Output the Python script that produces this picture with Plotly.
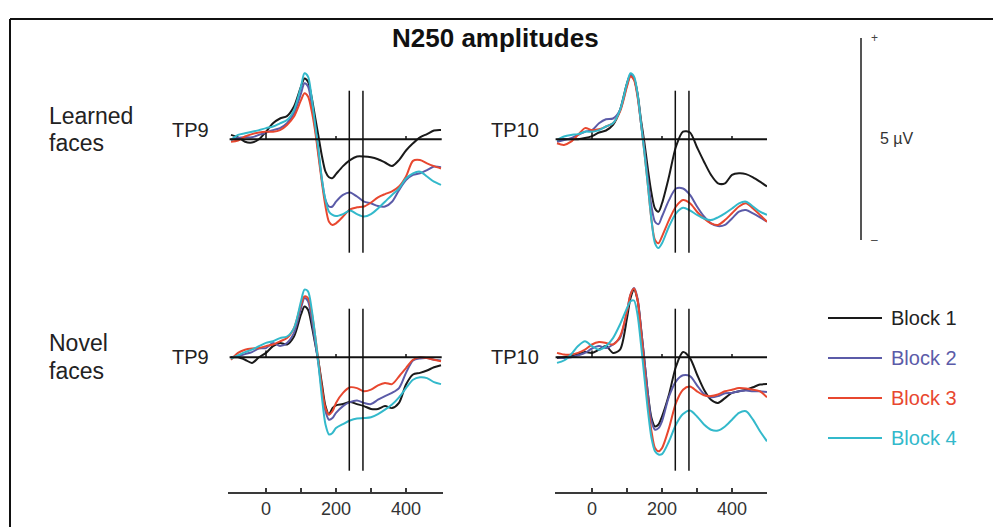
import plotly.graph_objects as go

# ---------------- data (µV) ----------------
t_ms = [-100, -80, -60, -40, -20, 0, 20, 40, 60, 80,
        100, 110, 120, 130, 140, 150, 160, 170, 180, 190, 200,
        220, 240, 260, 280, 300, 320, 340, 360, 380, 400, 420, 440, 460, 480, 500]

blocks = ["Block 1", "Block 2", "Block 3", "Block 4"]
colors = ["#1a1a1a", "#5b5ba8", "#e8472f", "#33b9cb"]

# Learned faces, TP9
learned_tp9 = [
    [0.11, 0.05, -0.06, -0.08, 0, 0.19, 0.4, 0.52, 0.58, 0.82,
     1.32, 1.52, 1.44, 1.07, 0.57, 0.07, -0.43, -0.81, -0.95, -0.97, -0.87,
     -0.67, -0.52, -0.43, -0.43, -0.45, -0.5, -0.58, -0.67, -0.52, -0.28, -0.1, 0.05, 0.13, 0.22, 0.23],
    [-0.02, 0.03, 0.05, 0.05, 0.11, 0.17, 0.23, 0.28, 0.4, 0.65,
     1.15, 1.4, 1.32, 0.9, 0.32, -0.35, -1.02, -1.52, -1.68, -1.68, -1.56,
     -1.39, -1.33, -1.43, -1.56, -1.6, -1.67, -1.68, -1.56, -1.27, -1.02, -0.89, -0.85, -0.77, -0.68, -0.7],
    [-0.06, -0.03, 0.07, 0.13, 0.17, 0.19, 0.19, 0.23, 0.36, 0.57,
     0.98, 1.15, 1.07, 0.73, 0.23, -0.43, -1.1, -1.68, -2.06, -2.14, -2.1,
     -1.93, -1.75, -1.7, -1.68, -1.58, -1.45, -1.37, -1.3, -1.18, -0.93, -0.54, -0.52, -0.6, -0.67, -0.73],
    [-0.02, 0.11, 0.15, 0.19, 0.23, 0.28, 0.32, 0.4, 0.48, 0.73,
     1.32, 1.65, 1.57, 1.07, 0.4, -0.27, -1.02, -1.52, -1.81, -1.89, -1.92,
     -1.87, -1.78, -1.87, -1.93, -1.87, -1.73, -1.56, -1.39, -1.23, -0.98, -0.85, -0.81, -0.93, -1.06, -1.14],
]

# Learned faces, TP10
learned_tp10 = [
    [-0.02, 0, 0, 0, 0.03, 0.08, 0.17, 0.22, 0.36, 0.73,
     1.4, 1.61, 1.52, 1.15, 0.48, -0.1, -0.77, -1.35, -1.73, -1.81, -1.6,
     -0.93, -0.18, 0.19, 0.17, -0.2, -0.56, -0.89, -1.1, -1.1, -0.89, -0.85, -0.87, -0.95, -1.06, -1.18],
    [-0.06, -0.02, 0.03, 0.11, 0.19, 0.23, 0.4, 0.5, 0.52, 0.73,
     1.36, 1.61, 1.52, 1.11, 0.4, -0.27, -1.02, -1.68, -2.06, -2.12, -1.93,
     -1.52, -1.23, -1.23, -1.39, -1.68, -1.93, -2.1, -2.17, -2.14, -1.98, -1.81, -1.77, -1.85, -1.95, -2.06],
    [-0.1, -0.14, -0.06, 0.11, 0.28, 0.23, 0.25, 0.32, 0.4, 0.69,
     1.32, 1.57, 1.48, 1.07, 0.4, -0.35, -1.18, -2.02, -2.52, -2.6, -2.43,
     -2.02, -1.68, -1.52, -1.6, -1.81, -1.98, -2.1, -2.14, -2.02, -1.85, -1.68, -1.6, -1.73, -1.89, -2.06],
    [-0.02, 0.07, 0.11, 0.13, 0.19, 0.19, 0.23, 0.32, 0.4, 0.73,
     1.4, 1.65, 1.57, 1.15, 0.4, -0.35, -1.18, -2.02, -2.6, -2.72, -2.6,
     -2.18, -1.85, -1.71, -1.78, -1.89, -1.98, -2.02, -1.95, -1.85, -1.73, -1.6, -1.56, -1.68, -1.81, -1.89],
]

# Novel faces, TP9
novel_tp9 = [
    [0, 0, -0.06, -0.14, 0, 0.11, 0.28, 0.36, 0.32, 0.52,
     1.07, 1.27, 1.19, 0.82, 0.36, -0.1, -0.68, -1.22, -1.43, -1.27, -1.2,
     -1.17, -1.12, -1.17, -1.22, -1.29, -1.29, -1.22, -1.27, -1.14, -0.68, -0.43, -0.39, -0.33, -0.25, -0.2],
    [0, 0.03, 0.08, 0.13, 0.22, 0.23, 0.36, 0.28, 0.36, 0.61,
     1.23, 1.48, 1.4, 0.98, 0.4, -0.18, -0.85, -1.35, -1.56, -1.52, -1.39,
     -1.22, -1.12, -1.08, -1.14, -1.17, -1.06, -0.97, -0.89, -0.77, -0.39, -0.08, -0.03, -0.02, -0.06, -0.08],
    [-0.06, 0.11, 0.19, 0.22, 0.23, 0.28, 0.32, 0.4, 0.48, 0.73,
     1.32, 1.52, 1.48, 1.15, 0.57, -0.1, -0.77, -1.27, -1.43, -1.35, -1.14,
     -0.89, -0.75, -0.77, -0.85, -0.81, -0.7, -0.64, -0.67, -0.48, -0.27, -0.06, 0, -0.02, -0.06, -0.1],
    [-0.03, 0.05, 0.13, 0.19, 0.28, 0.36, 0.4, 0.48, 0.52, 0.73,
     1.4, 1.69, 1.65, 1.23, 0.57, -0.18, -1.02, -1.68, -1.93, -1.89, -1.77,
     -1.67, -1.58, -1.53, -1.52, -1.5, -1.42, -1.31, -1.18, -1.0, -0.77, -0.56, -0.5, -0.52, -0.62, -0.67],
]

# Novel faces, TP10
novel_tp10 = [
    [-0.02, 0, 0.03, 0.07, 0.13, 0.11, 0.19, 0.28, 0.11, 0.19,
     0.98, 1.48, 1.69, 1.44, 0.73, -0.1, -0.93, -1.52, -1.73, -1.68, -1.48,
     -0.93, -0.23, 0.13, -0.02, -0.43, -0.81, -1.06, -1.14, -1.02, -0.89, -0.85, -0.81, -0.75, -0.68, -0.67],
    [0, -0.02, 0, 0.05, 0.11, 0.22, 0.28, 0.23, 0.32, 0.48,
     1.15, 1.57, 1.73, 1.48, 0.73, -0.1, -0.93, -1.6, -1.81, -1.77, -1.6,
     -0.98, -0.6, -0.45, -0.47, -0.7, -0.92, -1.0, -0.97, -0.9, -0.89, -0.85, -0.83, -0.85, -0.85, -0.87],
    [0.11, 0.07, 0.07, 0.11, 0.19, 0.32, 0.38, 0.36, 0.32, 0.52,
     1.15, 1.57, 1.72, 1.44, 0.65, -0.27, -1.18, -1.85, -2.27, -2.35, -2.27,
     -1.77, -1.14, -0.81, -0.73, -0.85, -0.95, -0.97, -0.93, -0.85, -0.81, -0.77, -0.78, -0.81, -0.85, -1.0],
    [-0.14, -0.08, 0.07, 0.28, 0.4, 0.28, 0.19, 0.28, 0.48, 0.82,
     1.23, 1.4, 1.42, 1.07, 0.32, -0.52, -1.35, -2.02, -2.35, -2.43, -2.42,
     -2.1, -1.68, -1.42, -1.33, -1.48, -1.68, -1.81, -1.83, -1.73, -1.56, -1.39, -1.35, -1.56, -1.85, -2.1],
]

window_ms = [238, 277]
tick_vals = [0, 100, 200, 300, 400]
tick_text = ["0", "", "200", "", "400"]
zero_ticks = [0, 200, 400]

# ---------------- layout helpers ----------------
W, H = 993, 527
def px(x):
    return x / W
def py(y):
    return 1 - y / H

FONT = "Liberation Sans, Arial, sans-serif"
UV = 40.0  # pixels per µV

panels = [
    ("x", "y", learned_tp9, "TP9"),
    ("x2", "y2", learned_tp10, "TP10"),
    ("x3", "y3", novel_tp9, "TP9"),
    ("x4", "y4", novel_tp10, "TP10"),
]

fig = go.Figure()
for xa, ya, series, _ in panels:
    for name, col, vals in zip(blocks, colors, series):
        fig.add_trace(go.Scatter(
            x=t_ms, y=vals, mode="lines", name=name, xaxis=xa, yaxis=ya,
            line=dict(color=col, width=2, shape="spline", smoothing=0.8),
            showlegend=False, hoverinfo="skip"))

left_dom = [px(228), px(443)]
left_rng = [(228 - 266) / 0.35, (443 - 266) / 0.35]
right_dom = [px(555), px(767)]
right_rng = [(555 - 592) / 0.35, (767 - 592) / 0.35]

top_base, bot_base = 139.3, 357.3
top_dom = [py(265), py(50)]
top_rng = [(top_base - 265) / UV, (top_base - 50) / UV]
bot_dom = [py(488), py(270)]
bot_rng = [(bot_base - 488) / UV, (bot_base - 270) / UV]

hidden = dict(visible=False, showgrid=False, zeroline=False, fixedrange=True)
bottom_axis = dict(visible=True, showgrid=False, zeroline=False, showline=True,
                   linecolor="#3a3a3a", linewidth=1.5, ticks="inside", ticklen=4,
                   tickwidth=1.5, tickcolor="#3a3a3a", tickvals=tick_vals,
                   ticktext=tick_text, tickfont=dict(family=FONT, size=18, color="#333333"),
                   anchor="free", position=py(493), fixedrange=True)

fig.update_layout(
    xaxis=dict(domain=left_dom, range=left_rng, anchor="y", **hidden),
    xaxis2=dict(domain=right_dom, range=right_rng, anchor="y2", **hidden),
    xaxis3=dict(domain=left_dom, range=left_rng, **bottom_axis),
    xaxis4=dict(domain=right_dom, range=right_rng, **bottom_axis),
    yaxis=dict(domain=top_dom, range=top_rng, anchor="x", **hidden),
    yaxis2=dict(domain=top_dom, range=top_rng, anchor="x2", **hidden),
    yaxis3=dict(domain=bot_dom, range=bot_rng, anchor="x3", **hidden),
    yaxis4=dict(domain=bot_dom, range=bot_rng, anchor="x4", **hidden),
)

shapes = []
annotations = []

for xa, ya, _, label in panels:
    # zero line of the panel
    shapes.append(dict(type="line", xref=xa, yref=ya, x0=-104, x1=502, y0=0, y1=0,
                       line=dict(color="#111111", width=2)))
    for tv in zero_ticks:
        hgt = 0.17 if tv == 0 else 0.08
        shapes.append(dict(type="line", xref=xa, yref=ya, x0=tv, x1=tv, y0=0, y1=hgt,
                           line=dict(color="#111111", width=1.5)))
    for wv in window_ms:
        shapes.append(dict(type="line", xref=xa, yref=ya, x0=wv, x1=wv,
                           y0=-2.835, y1=1.215, line=dict(color="#111111", width=1.5)))

# electrode labels
for x_right, y_c, txt in [(211, 130, "TP9"), (541, 130, "TP10"),
                          (211, 357, "TP9"), (541, 357, "TP10")]:
    annotations.append(dict(xref="paper", yref="paper", x=px(x_right), y=py(y_c),
                            text=txt, showarrow=False, xanchor="right", yanchor="middle",
                            font=dict(family=FONT, size=20, color="#222222")))

# row labels
for y_c, txt in [(116, "Learned"), (143, "faces"), (343, "Novel"), (371, "faces")]:
    annotations.append(dict(xref="paper", yref="paper", x=px(47), y=py(y_c),
                            text=txt, showarrow=False, xanchor="left", yanchor="middle",
                            font=dict(family=FONT, size=23, color="#222222")))

# title
annotations.append(dict(xref="paper", yref="paper", x=px(495), y=py(38),
                        text="<b>N250 amplitudes</b>", showarrow=False,
                        xanchor="center", yanchor="middle",
                        font=dict(family=FONT, size=26, color="#111111")))

# amplitude scale bar (5 µV)
shapes.append(dict(type="line", xref="paper", yref="paper", x0=px(861), x1=px(861),
                   y0=py(38), y1=py(240), line=dict(color="#555555", width=2)))
annotations.append(dict(xref="paper", yref="paper", x=px(869), y=py(38), text="+",
                        showarrow=False, xanchor="left", yanchor="middle",
                        font=dict(family=FONT, size=12, color="#444444")))
annotations.append(dict(xref="paper", yref="paper", x=px(869), y=py(240), text="–",
                        showarrow=False, xanchor="left", yanchor="middle",
                        font=dict(family=FONT, size=12, color="#444444")))
annotations.append(dict(xref="paper", yref="paper", x=px(878), y=py(138), text="5 µV",
                        showarrow=False, xanchor="left", yanchor="middle",
                        font=dict(family=FONT, size=16, color="#333333")))

# legend
for i, (name, col) in enumerate(zip(blocks, colors)):
    yy = 318 + 40 * i
    shapes.append(dict(type="line", xref="paper", yref="paper", x0=px(828), x1=px(882),
                       y0=py(yy), y1=py(yy), line=dict(color=col, width=2)))
    annotations.append(dict(xref="paper", yref="paper", x=px(889), y=py(yy), text=name,
                            showarrow=False, xanchor="left", yanchor="middle",
                            font=dict(family=FONT, size=20, color=col if i else "#222222")))

# figure frame
shapes.append(dict(type="line", xref="paper", yref="paper", x0=px(10), x1=1.0,
                   y0=py(19), y1=py(19), line=dict(color="#111111", width=2)))
shapes.append(dict(type="line", xref="paper", yref="paper", x0=px(10), x1=px(10),
                   y0=py(19), y1=0.0, line=dict(color="#111111", width=2)))

fig.update_layout(
    width=W, height=H, margin=dict(l=0, r=0, t=0, b=0),
    paper_bgcolor="white", plot_bgcolor="white",
    shapes=shapes, annotations=annotations, showlegend=False,
    font=dict(family=FONT),
)

fig.write_html("out.html")
